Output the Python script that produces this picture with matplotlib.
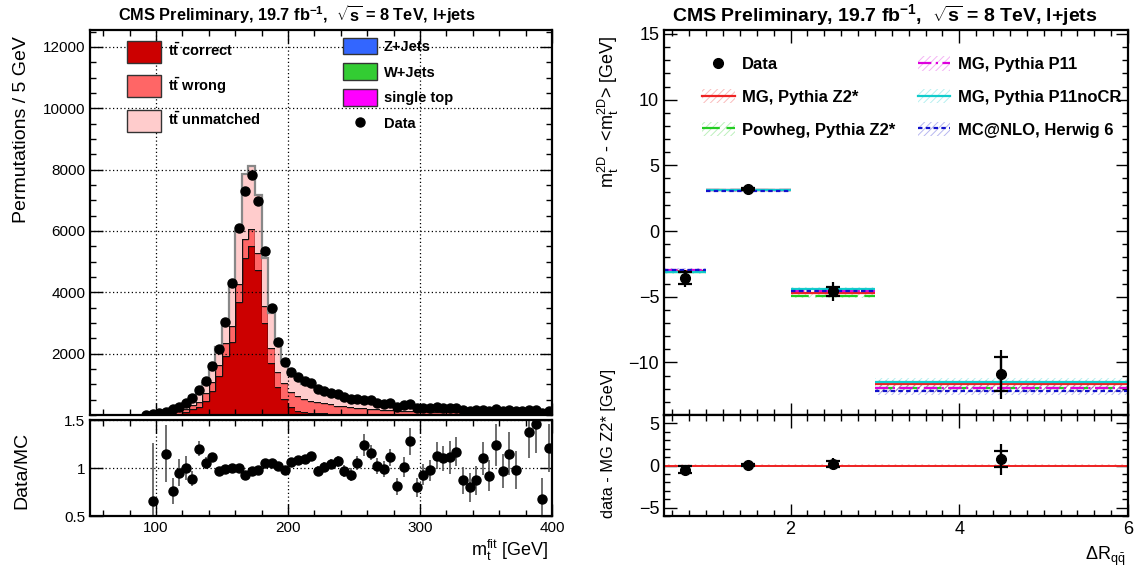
import matplotlib
matplotlib.use("Agg")
import matplotlib.pyplot as plt
import numpy as np
from matplotlib.lines import Line2D
from matplotlib.patches import Patch
from matplotlib.ticker import MultipleLocator, FixedLocator, NullFormatter

plt.rcParams["font.family"] = ["Liberation Sans", "DejaVu Sans"]
plt.rcParams["mathtext.fontset"] = "custom"
plt.rcParams["mathtext.rm"] = "Liberation Sans"
plt.rcParams["mathtext.it"] = "Liberation Sans:italic"
plt.rcParams["mathtext.bf"] = "Liberation Sans:bold"
plt.rcParams["hatch.linewidth"] = 0.7

# ---------------- left: m_t^fit, 5 GeV bins from 90 to 400 GeV
mass_edges = np.arange(90, 405, 5)
mass_centers = mass_edges[:-1] + 2.5

single_top = [0, 0, 1, 1, 2, 3, 4, 6, 7, 9,
              11, 14, 17, 21, 26, 30, 32, 30, 27, 24,
              22, 20, 19, 18, 17, 16, 15, 14, 13, 12,
              12, 11, 10, 10, 9, 9, 8, 8, 7, 7,
              7, 6, 6, 6, 5, 5, 5, 5, 4, 4,
              4, 4, 4, 3, 3, 3, 3, 3, 3, 2,
              2, 2]
w_jets = [0, 0, 0, 1, 1, 1, 2, 3, 3, 4,
          5, 6, 7, 8, 10, 11, 12, 11, 10, 9,
          9, 8, 8, 8, 7, 7, 7, 6, 6, 6,
          5, 5, 5, 5, 4, 4, 4, 4, 4, 3,
          3, 3, 3, 3, 3, 3, 2, 2, 2, 2,
          2, 2, 2, 2, 2, 2, 1, 1, 1, 1,
          1, 1]
z_jets = [0, 0, 0, 0, 0, 0, 1, 1, 1, 1,
          2, 2, 2, 3, 3, 4, 4, 4, 3, 3,
          3, 3, 3, 2, 2, 2, 2, 2, 2, 2,
          2, 2, 2, 1, 1, 1, 1, 1, 1, 1,
          1, 1, 1, 1, 1, 1, 1, 1, 1, 1,
          1, 1, 1, 1, 1, 1, 1, 1, 1, 1,
          1, 1]
tt_correct = [0, 3, 5, 10, 25, 40, 90, 170, 250, 450,
              750, 1250, 1900, 2345, 3640, 5070, 5460, 4677, 2959, 1660,
              870, 480, 220, 110, 65, 45, 35, 28, 22, 18,
              15, 12, 10, 9, 8, 7, 6, 6, 5, 5,
              5, 4, 4, 4, 3, 3, 3, 3, 2, 2,
              2, 2, 2, 2, 2, 1, 1, 1, 1, 1,
              1, 1]
tt_wrong = [0, 12, 12, 25, 60, 80, 110, 160, 170, 240,
            300, 370, 430, 540, 600, 630, 570, 543, 566, 480,
            490, 520, 500, 470, 430, 400, 370, 340, 300, 270,
            255, 240, 215, 195, 180, 170, 160, 145, 140, 130,
            120, 112, 105, 100, 95, 90, 86, 82, 78, 74,
            70, 66, 63, 60, 57, 54, 51, 48, 46, 44,
            42, 40]
tt_unmatched = [0, 30, 20, 46, 155, 163, 195, 267, 245, 349,
                387, 578, 719, 1321, 1721, 2113, 2039, 1895, 1565, 1154,
                946, 721, 570, 532, 479, 460, 436, 395, 347, 317,
                311, 300, 258, 220, 208, 199, 196, 176, 168, 164,
                149, 144, 136, 131, 125, 118, 113, 105, 101, 95,
                91, 85, 80, 77, 73, 69, 67, 64, 60, 57,
                54, 51]
data_counts = [15, 30, 60, 95, 185, 272, 402, 543, 815, 1109,
               1609, 2152, 3044, 4294, 6109, 7305, 7826, 6979, 5359, 3478,
               2370, 1717, 1399, 1231, 1095, 1042, 839, 793, 718, 669,
               582, 530, 525, 500, 476, 398, 371, 377, 263, 313,
               365, 216, 237, 239, 262, 242, 233, 232, 164, 142,
               148, 176, 140, 180, 134, 150, 122, 130, 155, 155,
               69, 116]
data_mc_ratio = [np.nan, 0.66, np.nan, 1.15, 0.76, 0.95, 1.00, 0.89, 1.20, 1.05,
                 1.11, 0.97, 0.99, 1.00, 1.00, 0.93, 0.97, 0.98, 1.05, 1.05,
                 1.02, 0.98, 1.06, 1.08, 1.095, 1.12, 0.97, 1.01, 1.04, 1.07,
                 0.97, 0.93, 1.05, 1.24, 1.16, 1.02, 0.99, 1.11, 0.81, 1.01,
                 1.28, 0.80, 0.93, 0.975, 1.13, 1.10, 1.11, 1.17, 0.87, 0.80,
                 0.87, 1.10, 0.92, 1.24, 0.97, 1.15, 0.98, np.nan, 1.38, 1.46,
                 0.68, 1.21]
ratio_err = [0, 0.6, 0, 0.30, 0.14, 0.14, 0.12, 0.08, 0.08, 0.06,
             0.05, 0.03, 0.025, 0.02, 0.02, 0.02, 0.02, 0.02, 0.02, 0.025,
             0.03, 0.035, 0.04, 0.04, 0.045, 0.045, 0.05, 0.05, 0.055, 0.06,
             0.06, 0.065, 0.07, 0.11, 0.08, 0.08, 0.085, 0.09, 0.09, 0.10,
             0.14, 0.10, 0.11, 0.11, 0.14, 0.13, 0.17, 0.15, 0.14, 0.15,
             0.15, 0.17, 0.16, 0.22, 0.18, 0.22, 0.20, 0, 0.28, 0.30,
             0.22, 0.25]

# ---------------- right: m_t^2D offset in bins of Delta R_qq
dr_lo = [0.5, 1.0, 2.0, 3.0]
dr_hi = [1.0, 2.0, 3.0, 6.0]
dr_center = [0.75, 1.5, 2.5, 4.5]
mt_data = [-3.6, 3.2, -4.6, -10.9]
mt_stat = [0.45, 0.1, 0.33, 1.3]
mt_total = [0.65, 0.15, 0.7, 1.85]
diff_data = [-0.5, 0.1, 0.2, 0.75]
diff_stat = [0.45, 0.1, 0.35, 0.95]
diff_total = [0.6, 0.15, 0.7, 1.85]

models = ["MG, Pythia Z2*", "Powheg, Pythia Z2*", "MG, Pythia P11",
          "MG, Pythia P11noCR", "MC@NLO, Herwig 6"]
model_values = {
    "MG, Pythia Z2*": [-3.05, 3.15, -4.75, -11.65],
    "Powheg, Pythia Z2*": [-3.1, 3.1, -4.95, -11.95],
    "MG, Pythia P11": [-3.0, 3.15, -4.6, -11.95],
    "MG, Pythia P11noCR": [-3.15, 3.1, -4.4, -11.5],
    "MC@NLO, Herwig 6": [-2.95, 3.05, -4.6, -12.2],
}
model_unc = [0.1, 0.08, 0.12, 0.3]
model_colors = ["#ee2222", "#22cc22", "#dd00dd", "#11cccc", "#1111cc"]
model_styles = ["-", (0, (8, 3)), (0, (6, 2, 1, 2)), "-", (0, (2, 1.5))]

W, H = 1135, 572
fig = plt.figure(figsize=(W / 100, H / 100), dpi=100)


def px_axes(x0, y0, x1, y1):
    return fig.add_axes([x0 / W, 1 - y1 / H, (x1 - x0) / W, (y1 - y0) / H])


def root_ticks(ax, size=11):
    ax.tick_params(which="both", direction="in", top=True, right=True,
                   labelsize=size, width=1)
    ax.tick_params(which="major", length=9)
    ax.tick_params(which="minor", length=4.5)
    for sp in ax.spines.values():
        sp.set_linewidth(1.6)


ax_h = px_axes(90, 30, 552, 415)
ax_r = px_axes(90, 420, 552, 516)
ax_m = px_axes(664, 30, 1128, 415)
ax_d = px_axes(664, 415, 1128, 516)

# stacked histogram
layers = [(single_top, "#ff00ff"), (w_jets, "#33cc33"), (z_jets, "#3366ff"),
          (tt_correct, "#cc0000"), (tt_wrong, "#ff6666"),
          (tt_unmatched, "#ffcccc")]
base = np.zeros(len(mass_centers))
for i, (vals, col) in enumerate(layers):
    top = base + np.asarray(vals, float)
    ax_h.stairs(top, mass_edges, baseline=base, fill=True, color=col, lw=0)
    ax_h.stairs(top, mass_edges, baseline=None,
                color="#888888" if i == len(layers) - 1 else "#111111",
                lw=1.6 if i == len(layers) - 1 else 1.0)
    base = top
ax_h.plot(mass_centers, data_counts, "o", color="k", ms=6.5, zorder=5)

ax_h.set_xlim(50, 400)
ax_h.set_ylim(0, 12550)
ax_h.xaxis.set_major_locator(MultipleLocator(100))
ax_h.xaxis.set_minor_locator(MultipleLocator(20))
ax_h.yaxis.set_major_locator(FixedLocator(range(2000, 12001, 2000)))
ax_h.yaxis.set_minor_locator(MultipleLocator(500))
ax_h.xaxis.set_major_formatter(NullFormatter())
ax_h.grid(True, which="major", ls=(0, (1, 2)), color="k", lw=0.9)
ax_h.set_axisbelow(False)
root_ticks(ax_h)

leg_font = dict(weight="bold", size=10.5)
tt = r"$\mathbf{t\bar{t}}$"
leg_a = ax_h.legend(
    handles=[Patch(fc=c, ec="#333333", lw=1) for c in ["#cc0000", "#ff6666", "#ffcccc"]],
    labels=[tt + " correct", tt + " wrong", tt + " unmatched"],
    loc="upper left", bbox_to_anchor=(0.08, 0.972), frameon=False, prop=leg_font,
    handlelength=2.3, handleheight=1.95, labelspacing=0.85, handletextpad=0.5,
    borderpad=0, borderaxespad=0)
ax_h.add_artist(leg_a)
ax_h.legend(
    handles=[Patch(fc=c, ec="#333333", lw=1) for c in ["#3366ff", "#33cc33", "#ff00ff"]]
    + [Line2D([], [], marker="o", ls="none", color="k", ms=6.5)],
    labels=["Z+Jets", "W+Jets", "single top", "Data"],
    loc="upper left", bbox_to_anchor=(0.548, 0.98), frameon=False, prop=leg_font,
    handlelength=2.3, handleheight=1.36, labelspacing=0.64, handletextpad=0.5,
    borderpad=0, borderaxespad=0)

# ratio panel
ax_r.errorbar(mass_centers, data_mc_ratio, yerr=ratio_err, fmt="o", color="k",
              ecolor="#555555", elinewidth=1.2, ms=6.5, capsize=0)
ax_r.set_xlim(50, 400)
ax_r.set_ylim(0.5, 1.5)
ax_r.xaxis.set_major_locator(MultipleLocator(100))
ax_r.xaxis.set_minor_locator(MultipleLocator(20))
ax_r.yaxis.set_major_locator(FixedLocator([0.5, 1.0, 1.5]))
ax_r.yaxis.set_major_formatter(plt.FuncFormatter(lambda v, p: f"{v:g}"))
ax_r.grid(True, which="major", ls=(0, (1, 2)), color="k", lw=0.9)
root_ticks(ax_r)

fig.text(548 / W, 1 - 550 / H, r"$\mathrm{m_{t}^{fit}}$ [GeV]", ha="right",
         va="center", fontsize=13)
fig.text(22 / W, 1 - 36 / H, "Permutations / 5 GeV", rotation=90, ha="center",
         va="top", fontsize=14)
fig.text(22 / W, 1 - 470 / H, "Data/MC", rotation=90, ha="center",
         va="center", fontsize=14)

title = r"CMS Preliminary, 19.7 fb$^{\mathbf{-1}}$,  $\mathbf{\sqrt{s}}$ = 8 TeV, l+jets"
fig.text(297 / W, 1 - 15 / H, title, ha="center", va="center", fontsize=11.8,
         fontweight="bold")
fig.text(885 / W, 1 - 15 / H, title, ha="center", va="center", fontsize=14,
         fontweight="bold")

# right main panel
widths = np.subtract(dr_hi, dr_lo)
handles = [Line2D([], [], marker="o", ls="none", color="k", ms=7)]
for name, col, ls in zip(models, model_colors, model_styles):
    vals = np.asarray(model_values[name])
    ax_m.bar(dr_center, 2 * np.asarray(model_unc), bottom=vals - model_unc,
             width=widths, fill=False, hatch="/////", edgecolor=col, lw=0,
             alpha=0.3)
    ax_m.hlines(vals, dr_lo, dr_hi, colors=col, linestyles=ls, lw=1.6)
    handles.append((Patch(fill=False, hatch="/////", edgecolor=col, lw=0, alpha=0.3),
                    Line2D([], [], color=col, ls=ls, lw=1.6)))

ax_m.errorbar(dr_center, mt_data, yerr=mt_total, fmt="o", color="k", ms=7,
              elinewidth=1.6, capsize=0, zorder=6)
ax_m.errorbar(dr_center, mt_data, yerr=mt_stat, fmt="none", ecolor="k",
              elinewidth=1.6, capsize=5, capthick=1.6, zorder=6)
ax_m.set_xlim(0.5, 6)
ax_m.set_ylim(-14, 15.3)
ax_m.xaxis.set_major_locator(MultipleLocator(2))
ax_m.xaxis.set_minor_locator(MultipleLocator(0.2))
ax_m.xaxis.set_major_formatter(NullFormatter())
ax_m.yaxis.set_major_locator(MultipleLocator(5))
ax_m.yaxis.set_minor_locator(MultipleLocator(1))
root_ticks(ax_m, 13)

labels = ["Data"] + models
ax_m.legend(handles, labels, ncol=2,
            loc="upper left", bbox_to_anchor=(0.082, 0.932), frameon=False,
            prop=dict(weight="bold", size=12), handlelength=1.95,
            handleheight=0.95, labelspacing=1.02, handletextpad=0.45,
            columnspacing=1.35, borderpad=0, borderaxespad=0)

# right difference panel
ax_d.bar(3.25, 0.3, bottom=-0.15, width=5.5, fill=False, hatch="/////",
         edgecolor="#ee2222", lw=0, alpha=0.3)
ax_d.axhline(0, color="#ee2222", lw=1.4)
ax_d.errorbar(dr_center, diff_data, yerr=diff_total, fmt="o", color="k", ms=7,
              elinewidth=1.6, capsize=0, zorder=6)
ax_d.errorbar(dr_center, diff_data, yerr=diff_stat, fmt="none", ecolor="k",
              elinewidth=1.6, capsize=5, capthick=1.6, zorder=6)
ax_d.set_xlim(0.5, 6)
ax_d.set_ylim(-6, 6)
ax_d.xaxis.set_major_locator(MultipleLocator(2))
ax_d.xaxis.set_minor_locator(MultipleLocator(0.2))
ax_d.yaxis.set_major_locator(MultipleLocator(5))
ax_d.yaxis.set_minor_locator(MultipleLocator(1))
root_ticks(ax_d, 13)

fig.text(1125 / W, 1 - 556 / H, r"$\Delta\mathrm{R_{q\bar{q}}}$", ha="right",
         va="center", fontsize=13)
fig.text(608 / W, 1 - 36 / H,
         r"$\mathrm{m_{t}^{2D}}$ - <$\mathrm{m_{t}^{2D}}$> [GeV]",
         rotation=90, ha="center", va="top", fontsize=13)
fig.text(608 / W, 1 - 443 / H, "data - MG Z2* [GeV]", rotation=90,
         ha="center", va="center", fontsize=11.8)

fig.savefig("out.png", dpi=100)
